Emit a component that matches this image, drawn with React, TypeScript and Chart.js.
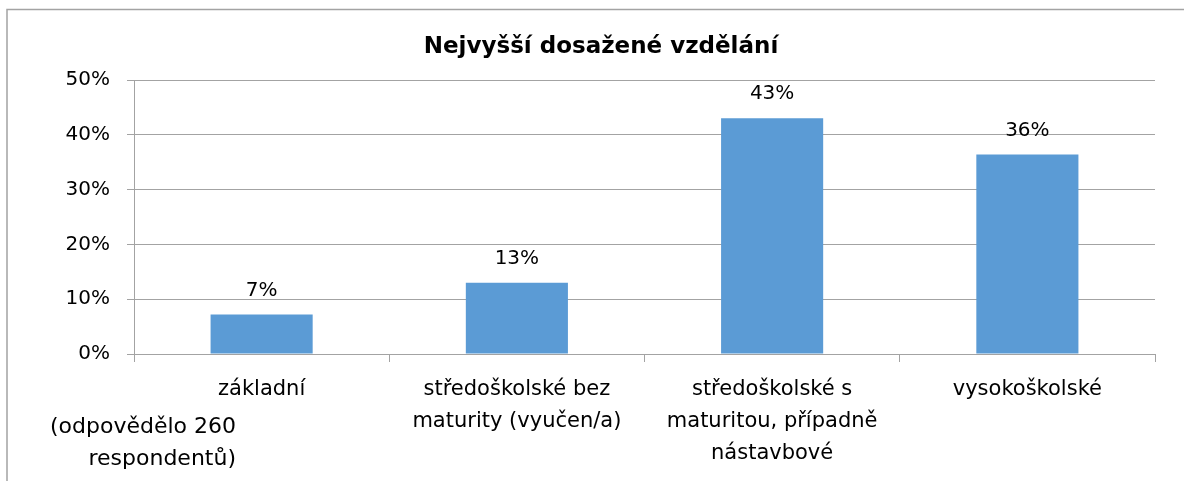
import React, { useEffect, useRef } from "react";
import { Chart, registerables } from "chart.js";

Chart.register(...registerables);

const chartTitle = "Nejvyšší dosažené vzdělání";
const categories: (string | string[])[] = [
  "základní",
  ["středoškolské bez", "maturity (vyučen/a)"],
  ["středoškolské s", "maturitou, případně", "nástavbové"],
  "vysokoškolské",
];
const values = [7.2, 13.0, 43.0, 36.4];
const valueLabels = ["7%", "13%", "43%", "36%"];
const yTicks = [0, 10, 20, 30, 40, 50];
const noteLines = ["(odpovědělo 260", "respondentů)"];

const FONT = "'DejaVu Sans', sans-serif";
const GRID = "#a3a3a3";
const BAR = "#5B9BD5";

const decor = {
  id: "decor",
  beforeDraw(chart: any) {
    const ctx = chart.ctx;
    ctx.save();
    ctx.fillStyle = "#ffffff";
    ctx.fillRect(0, 0, chart.width, chart.height);
    ctx.strokeStyle = GRID;
    ctx.lineWidth = 1.5;
    ctx.beginPath();
    ctx.moveTo(7, chart.height + 2);
    ctx.lineTo(7, 9.5);
    ctx.lineTo(chart.width + 2, 9.5);
    ctx.stroke();
    ctx.restore();
  },
  afterDatasetsDraw(chart: any) {
    const ctx = chart.ctx;
    const meta = chart.getDatasetMeta(0);
    ctx.save();
    ctx.fillStyle = "#000000";
    ctx.font = `20px ${FONT}`;
    ctx.textAlign = "center";
    ctx.textBaseline = "alphabetic";
    meta.data.forEach((bar: any, i: number) => {
      ctx.fillText(valueLabels[i], bar.x, bar.y - 19);
    });
    ctx.restore();
  },
  afterDraw(chart: any) {
    const ctx = chart.ctx;
    ctx.save();
    ctx.fillStyle = "#000000";
    ctx.textBaseline = "alphabetic";
    ctx.font = `bold 23px ${FONT}`;
    ctx.textAlign = "center";
    ctx.fillText(chartTitle, 601, 53);
    ctx.font = `22px ${FONT}`;
    ctx.textAlign = "right";
    noteLines.forEach((line, i) => ctx.fillText(line, 236, 433 + i * 32));
    ctx.restore();
  },
};

export default function App() {
  const ref = useRef<HTMLCanvasElement | null>(null);
  useEffect(() => {
    if (!ref.current) return;
    const chart = new Chart(ref.current, {
      type: "bar",
      data: {
        labels: categories,
        datasets: [
          {
            data: values,
            backgroundColor: BAR,
            borderWidth: 0,
            barPercentage: 0.4,
            categoryPercentage: 1,
          },
        ],
      },
      options: {
        responsive: false,
        animation: false,
        layout: { padding: { left: 0, right: 29, top: 80, bottom: 0 } },
        plugins: {
          legend: { display: false },
          title: { display: false },
          tooltip: { enabled: false },
        },
        scales: {
          x: {
            offset: true,
            grid: {
              offset: true,
              drawOnChartArea: false,
              drawTicks: true,
              tickLength: 8,
              tickColor: GRID,
              lineWidth: 1,
            },
            border: { display: true, color: GRID, width: 1 },
            ticks: {
              color: "#000000",
              font: { family: FONT, size: 21, lineHeight: "32px" as any },
              padding: 12,
              maxRotation: 0,
              minRotation: 0,
              autoSkip: false,
            },
            afterFit(scale: any) {
              scale.height = 127;
            },
          },
          y: {
            min: 0,
            max: 50,
            afterBuildTicks(scale: any) {
              scale.ticks = yTicks.map((v) => ({ value: v }));
            },
            grid: {
              color: GRID,
              tickColor: GRID,
              tickLength: 7,
              lineWidth: 1,
            },
            border: { display: true, color: GRID, width: 1 },
            ticks: {
              color: "#000000",
              font: { family: FONT, size: 20 },
              padding: 17,
              callback: (v: any) => `${v}%`,
            },
            afterFit(scale: any) {
              scale.width = 134;
            },
          },
        },
      },
      plugins: [decor],
    });
    return () => chart.destroy();
  }, []);
  return (
    <div style={{ position: "absolute", left: 0, top: 0, width: 1184, height: 481 }}>
      <canvas ref={ref} width={1184} height={481} style={{ display: "block" }} />
    </div>
  );
}
